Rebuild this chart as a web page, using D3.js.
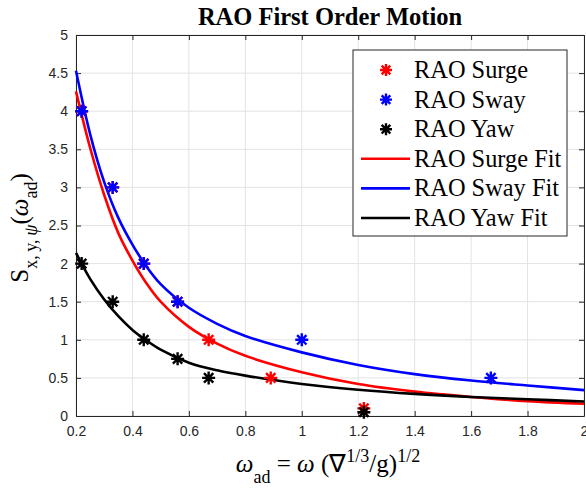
<!DOCTYPE html>
<html>
<head>
<meta charset="utf-8">
<script src="https://cdn.jsdelivr.net/npm/d3@7"></script>
<style>
  body { margin: 0; background: #fff; }
  svg { display: block; }
  .tick text { font-family: "Liberation Sans", Arial, sans-serif; font-size: 14px; fill: #262626; }
  .serif { font-family: "Liberation Serif", "Times New Roman", serif; fill: #000; }
</style>
</head>
<body>
<svg id="chart" width="586" height="489"></svg>
<script>
// measured points (stars)
const surgeX = [0.22, 0.33, 0.44, 0.56, 0.67, 0.89, 1.22]
const surgeY = [4, 3, 2, 1.5, 1, 0.5, 0.1]
const swayX = [0.22, 0.33, 0.44, 0.56, 1.0, 1.67]
const swayY = [4, 3, 2, 1.5, 1, 0.5]
const yawX = [0.22, 0.33, 0.44, 0.56, 0.67, 1.22]
const yawY = [2, 1.5, 1, 0.75, 0.5, 0.05]

// fitted curves
const fitX = [0.2, 0.25, 0.3, 0.35, 0.4, 0.45, 0.5, 0.6, 0.7, 0.8, 1.0, 1.2, 1.4, 1.6, 1.8, 2.0]
const surgeFit = [4.26, 3.52, 2.90, 2.40, 2.04, 1.74, 1.50, 1.17, 0.95, 0.79, 0.575, 0.42, 0.32, 0.25, 0.195, 0.16]
const swayFit = [4.53, 3.70, 3.07, 2.60, 2.25, 1.96, 1.73, 1.42, 1.21, 1.05, 0.835, 0.67, 0.55, 0.465, 0.40, 0.34]
const yawFit = [2.14, 1.80, 1.53, 1.31, 1.13, 0.99, 0.87, 0.70, 0.60, 0.53, 0.42, 0.345, 0.29, 0.25, 0.22, 0.19]

const xTicks = [0.2, 0.4, 0.6, 0.8, 1, 1.2, 1.4, 1.6, 1.8, 2]
const xTickLabels = ["0.2", "0.4", "0.6", "0.8", "1", "1.2", "1.4", "1.6", "1.8", "2"]
const yTicks = [0, 0.5, 1, 1.5, 2, 2.5, 3, 3.5, 4, 4.5, 5]
const yTickLabels = ["0", "0.5", "1", "1.5", "2", "2.5", "3", "3.5", "4", "4.5", "5"]

const legendNames = ["RAO Surge", "RAO Sway", "RAO Yaw", "RAO Surge Fit", "RAO Sway Fit", "RAO Yaw Fit"]

const svg = d3.select("#chart")
const pLeft = 76, pRight = 584, pTop = 35, pBottom = 416

var x = d3.scaleLinear().domain([0.2, 2]).range([pLeft, pRight])
var y = d3.scaleLinear().domain([0, 5]).range([pBottom, pTop])

// grid
const grid = svg.append("g").attr("stroke", "#e3e3e3").attr("stroke-width", 1)
grid.selectAll(".gx").data(xTicks).enter().append("line")
    .attr("x1", d => x(d)).attr("x2", d => x(d)).attr("y1", pTop).attr("y2", pBottom)
grid.selectAll(".gy").data(yTicks).enter().append("line")
    .attr("y1", d => y(d)).attr("y2", d => y(d)).attr("x1", pLeft).attr("x2", pRight)

// axes
function styleAxis(g) {
  g.select(".domain").attr("stroke", "#262626")
  g.selectAll(".tick line").attr("stroke", "#262626")
}
svg.append("g").attr("transform", `translate(0,${pBottom})`)
   .call(d3.axisBottom(x).tickValues(xTicks).tickSizeInner(-5).tickSizeOuter(0).tickPadding(10)
     .tickFormat((d, i) => xTickLabels[i]))
   .call(styleAxis)
svg.append("g").attr("transform", `translate(${pLeft},0)`)
   .call(d3.axisLeft(y).tickValues(yTicks).tickSizeInner(-5).tickSizeOuter(0).tickPadding(8)
     .tickFormat((d, i) => yTickLabels[i]))
   .call(styleAxis)
svg.append("g").attr("transform", `translate(0,${pTop})`)
   .call(d3.axisTop(x).tickValues(xTicks).tickSizeInner(-5).tickSizeOuter(0).tickFormat(""))
   .call(styleAxis)
svg.append("g").attr("transform", `translate(${pRight},0)`)
   .call(d3.axisRight(y).tickValues(yTicks).tickSizeInner(-5).tickSizeOuter(0).tickFormat(""))
   .call(styleAxis)

// fit lines
const line = d3.line().x(d => x(d[0])).y(d => y(d[1])).curve(d3.curveCatmullRom.alpha(0.5))
const fits = [
  { vals: surgeFit, color: "#ff0000" },
  { vals: swayFit, color: "#0000ff" },
  { vals: yawFit, color: "#000000" }
]
fits.forEach(function(f) {
  svg.append("path")
     .datum(fitX.map((v, i) => [v, f.vals[i]]))
     .attr("d", line)
     .attr("fill", "none")
     .attr("stroke", f.color)
     .attr("stroke-width", 2.6)
})

// asterisk marker
function star(r) {
  const d = r * 0.72
  return `M${-r},0L${r},0M0,${-r}L0,${r}M${-d},${-d}L${d},${d}M${-d},${d}L${d},${-d}`
}
const sets = [
  { xs: surgeX, ys: surgeY, color: "#ff0000" },
  { xs: swayX, ys: swayY, color: "#0000ff" },
  { xs: yawX, ys: yawY, color: "#000000" }
]
sets.forEach(function(s) {
  svg.append("g").selectAll("path")
     .data(s.xs.map((v, i) => [v, s.ys[i]]))
     .enter().append("path")
     .attr("transform", d => `translate(${x(d[0])},${y(d[1])})`)
     .attr("d", star(6.5))
     .attr("stroke", s.color)
     .attr("stroke-width", 2.4)
     .attr("fill", "none")
})

// title
svg.append("text").attr("class", "serif")
   .attr("x", (pLeft + pRight) / 2).attr("y", 25)
   .attr("text-anchor", "middle")
   .style("font-size", "24.5px").style("font-weight", "bold")
   .text("RAO First Order Motion")

// legend
const lg = svg.append("g")
lg.append("rect").attr("x", 353).attr("y", 50).attr("width", 214).attr("height", 186)
  .attr("fill", "#fff").attr("stroke", "#262626").attr("stroke-width", 1)
const legendColors = ["#ff0000", "#0000ff", "#000000", "#ff0000", "#0000ff", "#000000"]
legendNames.forEach(function(name, i) {
  const cy = 70 + i * 29.6
  if (i < 3) {
    lg.append("path").attr("transform", `translate(386,${cy})`)
      .attr("d", star(6)).attr("stroke", legendColors[i]).attr("stroke-width", 2.4).attr("fill", "none")
  } else {
    lg.append("line").attr("x1", 361).attr("x2", 410).attr("y1", cy).attr("y2", cy)
      .attr("stroke", legendColors[i]).attr("stroke-width", 2.6)
  }
  lg.append("text").attr("class", "serif")
    .attr("x", 414).attr("y", cy + 8)
    .style("font-size", "24.4px")
    .text(name)
})

// x label
const xl = svg.append("text").attr("class", "serif")
   .attr("x", 328).attr("y", 472).attr("text-anchor", "middle")
   .style("font-size", "25px")
xl.append("tspan").style("font-style", "italic").text("ω")
xl.append("tspan").attr("dy", 11).style("font-size", "18px").text("ad")
xl.append("tspan").attr("dy", -11).text(" = ")
xl.append("tspan").style("font-style", "italic").text("ω")
xl.append("tspan").text(" (∇")
xl.append("tspan").attr("dy", -10).style("font-size", "18px").text("1/3")
xl.append("tspan").attr("dy", 10).text("/g)")
xl.append("tspan").attr("dy", -10).style("font-size", "18px").text("1/2")

// y label
const yl = svg.append("text").attr("class", "serif")
   .attr("transform", "translate(28,228) rotate(-90)")
   .attr("text-anchor", "middle")
   .style("font-size", "25px")
yl.append("tspan").text("S")
yl.append("tspan").attr("dy", 9).style("font-size", "18px").text("x,\u2009y,\u2009")
yl.append("tspan").style("font-size", "18px").style("font-style", "italic").text("ψ")
yl.append("tspan").attr("dy", -9).text("(")
yl.append("tspan").style("font-style", "italic").text("ω")
yl.append("tspan").attr("dy", 9).style("font-size", "18px").text("ad")
yl.append("tspan").attr("dy", -9).text(")")
</script>
</body>
</html>
